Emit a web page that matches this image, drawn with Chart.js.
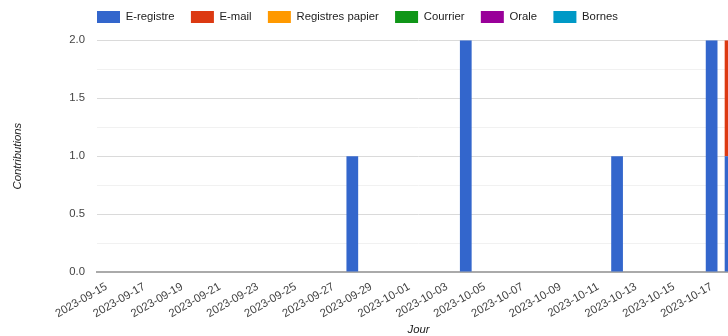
<!DOCTYPE html>
<html>
<head>
<meta charset="utf-8">
<script src="https://cdn.jsdelivr.net/npm/chart.js@4/dist/chart.umd.min.js"></script>
<style>
  html, body { margin: 0; padding: 0; background: #fff; overflow: hidden; }
  #wrap { width: 760px; height: 336px; position: relative; }
</style>
</head>
<body>
<div id="wrap"><canvas id="chart"></canvas></div>
<script>
// Contributions par jour et par canal

const days = [
  '2023-09-15','2023-09-16','2023-09-17','2023-09-18','2023-09-19','2023-09-20','2023-09-21',
  '2023-09-22','2023-09-23','2023-09-24','2023-09-25','2023-09-26','2023-09-27','2023-09-28',
  '2023-09-29','2023-09-30','2023-10-01','2023-10-02','2023-10-03','2023-10-04','2023-10-05',
  '2023-10-06','2023-10-07','2023-10-08','2023-10-09','2023-10-10','2023-10-11','2023-10-12',
  '2023-10-13','2023-10-14','2023-10-15','2023-10-16','2023-10-17','2023-10-18'
];

const eRegistre = [0,0,0,0,0,0,0, 0,0,0,0,0,0,1, 0,0,0,0,0,2,0, 0,0,0,0,0,0,1, 0,0,0,0,2,1];
const eMail     = [0,0,0,0,0,0,0, 0,0,0,0,0,0,0, 0,0,0,0,0,0,0, 0,0,0,0,0,0,0, 0,0,0,0,0,1];
const papier    = [0,0,0,0,0,0,0, 0,0,0,0,0,0,0, 0,0,0,0,0,0,0, 0,0,0,0,0,0,0, 0,0,0,0,0,0];
const courrier  = [0,0,0,0,0,0,0, 0,0,0,0,0,0,0, 0,0,0,0,0,0,0, 0,0,0,0,0,0,0, 0,0,0,0,0,0];
const orale     = [0,0,0,0,0,0,0, 0,0,0,0,0,0,0, 0,0,0,0,0,0,0, 0,0,0,0,0,0,0, 0,0,0,0,0,0];
const bornes    = [0,0,0,0,0,0,0, 0,0,0,0,0,0,0, 0,0,0,0,0,0,0, 0,0,0,0,0,0,0, 0,0,0,0,0,0];

const seriesNames  = ['E-registre','E-mail','Registres papier','Courrier','Orale','Bornes'];
const seriesColors = ['#3366cc','#dc3912','#ff9900','#109618','#990099','#0099c6'];
const seriesData   = [eRegistre, eMail, papier, courrier, orale, bornes];

const FONT = "'Liberation Sans', Arial, sans-serif";

// google-style legend: starts at the plot's left edge, sits close to the top
const legendShift = {
  id: 'legendShift',
  afterLayout(chart) {
    const lg = chart.legend;
    lg.left = chart.chartArea.left - lg.options.labels.padding;
    lg.top = 11 - lg.options.labels.padding;
  }
};

new Chart(document.getElementById('chart').getContext('2d'), {
  type: 'bar',
  data: {
    labels: days,
    datasets: seriesNames.map((name, i) => ({
      label: name,
      data: seriesData[i],
      backgroundColor: seriesColors[i],
      borderWidth: 0,
      categoryPercentage: 0.62,
      barPercentage: 1
    }))
  },
  options: {
    responsive: true,
    maintainAspectRatio: false,
    animation: false,
    layout: { padding: { left: 4, right: 20, top: 2, bottom: 0 } },
    plugins: {
      legend: {
        position: 'top',
        align: 'start',
        labels: { boxWidth: 23, boxHeight: 12, padding: 16.3, color: '#222', font: { family: FONT, size: 11.3 } }
      },
      tooltip: { enabled: false }
    },
    scales: {
      x: {
        stacked: true,
        afterFit: s => { s.height = 64; },
        grid: { display: false },
        border: { color: '#aaa', width: 2 },
        ticks: {
          autoSkip: false, maxRotation: 30, minRotation: 30, padding: 0,
          color: '#444', font: { family: FONT, size: 11.3 },
          callback: function (v, i) { return i % 2 === 0 ? this.getLabelForValue(v) : ''; }
        },
        title: { display: true, text: 'Jour', color: '#222', padding: { top: 0, bottom: -1 }, font: { family: FONT, size: 11.3, style: 'italic' } }
      },
      y: {
        stacked: true,
        min: 0, max: 2,
        afterFit: s => { s.width = 93; },
        border: { display: false },
        grid: {
          drawTicks: false,
          color: c => c.tick.value === 0 ? 'rgba(0,0,0,0)' : (c.tick.value % 0.5 === 0 ? '#dadada' : '#f1f1f1')
        },
        ticks: {
          stepSize: 0.25, padding: 12,
          color: '#444', font: { family: FONT, size: 11.3 },
          callback: v => v % 0.5 === 0 ? v.toFixed(1) : ''
        },
        title: { display: true, text: 'Contributions', color: '#222', padding: { top: 7, bottom: 0 }, font: { family: FONT, size: 11.3, style: 'italic' } }
      }
    }
  },
  plugins: [legendShift]
});
</script>
</body>
</html>
